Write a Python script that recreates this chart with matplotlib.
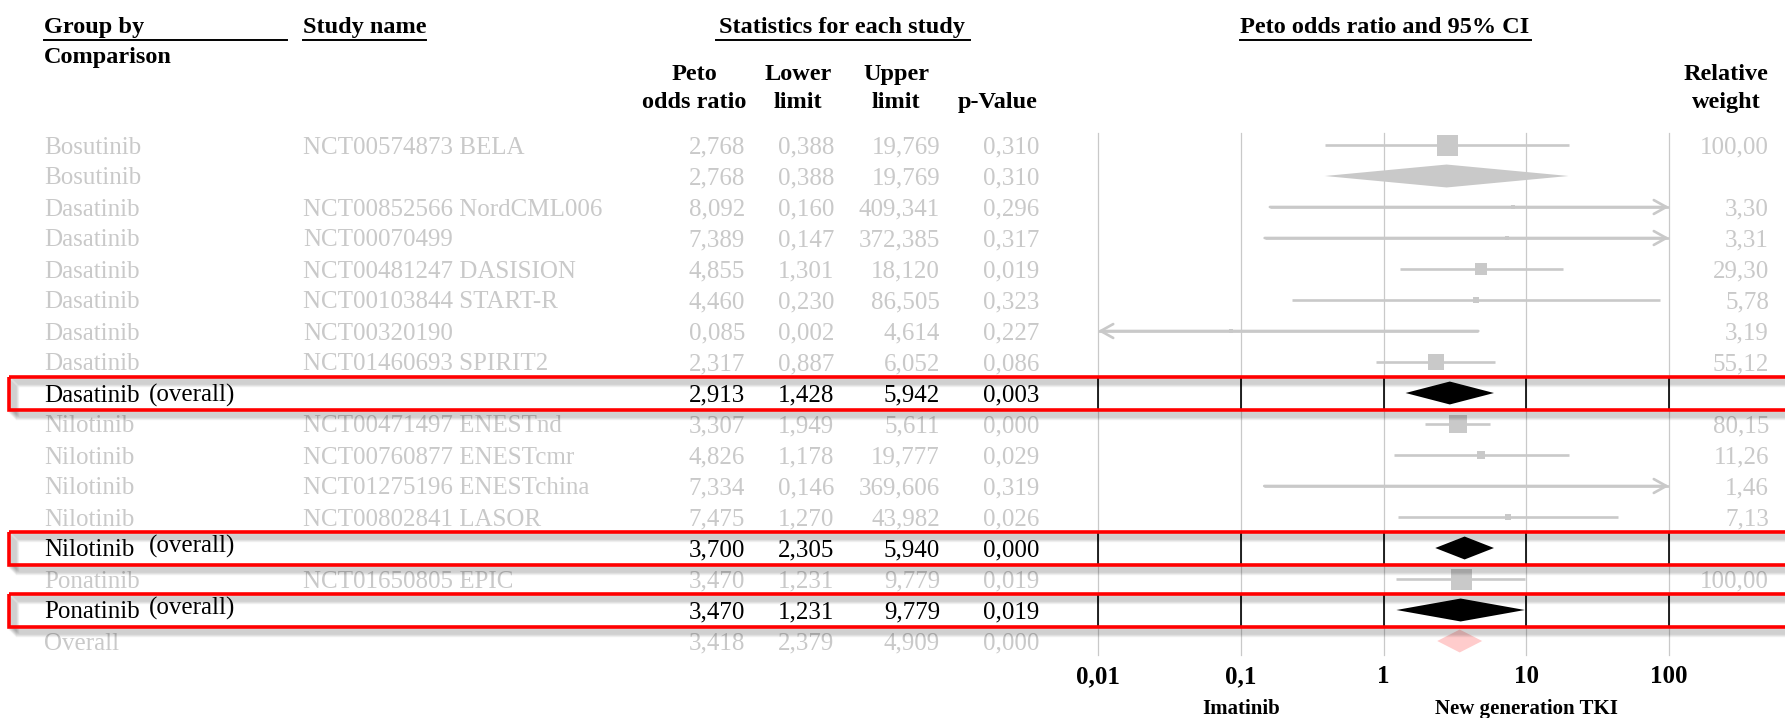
import numpy as np
import matplotlib
matplotlib.use("Agg")
import matplotlib.pyplot as plt
from matplotlib.patches import Rectangle
from matplotlib.transforms import blended_transform_factory

plt.rcParams['font.family'] = 'Liberation Serif'

# rows of the forest plot, top to bottom
groups = ["Bosutinib", "Bosutinib", "Dasatinib", "Dasatinib", "Dasatinib", "Dasatinib",
          "Dasatinib", "Dasatinib", "Dasatinib (overall)", "Nilotinib", "Nilotinib",
          "Nilotinib", "Nilotinib", "Nilotinib (overall)", "Ponatinib", "Ponatinib (overall)",
          "Overall"]
studies = ["NCT00574873 BELA", "", "NCT00852566 NordCML006", "NCT00070499",
           "NCT00481247 DASISION", "NCT00103844 START-R", "NCT00320190",
           "NCT01460693 SPIRIT2", "", "NCT00471497 ENESTnd", "NCT00760877 ENESTcmr",
           "NCT01275196 ENESTchina", "NCT00802841 LASOR", "", "NCT01650805 EPIC", "", ""]
odds = [2.768, 2.768, 8.092, 7.389, 4.855, 4.460, 0.085, 2.317, 2.913,
        3.307, 4.826, 7.334, 7.475, 3.700, 3.470, 3.470, 3.418]
lower = [0.388, 0.388, 0.160, 0.147, 1.301, 0.230, 0.002, 0.887, 1.428,
         1.949, 1.178, 0.146, 1.270, 2.305, 1.231, 1.231, 2.379]
upper = [19.769, 19.769, 409.341, 372.385, 18.120, 86.505, 4.614, 6.052, 5.942,
         5.611, 19.777, 369.606, 43.982, 5.940, 9.779, 9.779, 4.909]
pvals = [0.310, 0.310, 0.296, 0.317, 0.019, 0.323, 0.227, 0.086, 0.003,
         0.000, 0.029, 0.319, 0.026, 0.000, 0.019, 0.019, 0.000]
weights = [100.00, None, 3.30, 3.31, 29.30, 5.78, 3.19, 55.12, None,
           80.15, 11.26, 1.46, 7.13, None, 100.00, None, None]

ticks = [0.01, 0.1, 1, 10, 100]
tick_labels = ["0,01", "0,1", "1", "10", "100"]

gray = '#c9c9c9'
pink = '#ffcccc'
red = '#ff0000'


def fmt(v, n=3):
    return f"{v:.{n}f}".replace('.', ',')


W, H = 1785, 718
fig = plt.figure(figsize=(W / 100, H / 100), dpi=100)

# background axes in pixel units for the table part
bg = fig.add_axes([0, 0, 1, 1])
bg.set_xlim(0, W)
bg.set_ylim(H, 0)
bg.axis('off')

row0, dy = 145, 31
n = len(groups)

# forest axes, rows in data units
top_px, bot_px = row0 - dy * 0.5, row0 + dy * (n - 0.5)
x0, x1 = 1098, 1669
fax = fig.add_axes([x0 / W, 1 - bot_px / H, (x1 - x0) / W, (bot_px - top_px) / H])
fax.set_xscale('log')
fax.set_xlim(ticks[0], ticks[-1])
fax.set_ylim(n - 0.5, -0.5)
fax.axis('off')

hl = [g.endswith("(overall)") for g in groups]

# headers
hb = dict(fontsize=17.5, fontweight='bold')
bg.text(44, 33, "Group by", **hb)
bg.text(44, 63, "Comparison", **hb)
bg.text(303, 33, "Study name", **hb)
bg.text(842, 33, "Statistics for each study", ha='center', **hb)
bg.text(1385, 33, "Peto odds ratio and 95% CI", ha='center', **hb)
for xa, xb in [(44, 287), (303, 426), (716, 970), (1240, 1531)]:
    bg.plot([xa, xb], [40, 40], color='black', lw=1.4)
for xc, l1, l2 in [(694, "Peto", "odds ratio"), (798, "Lower", "limit"),
                   (896, "Upper", "limit"), (998, "", "p-Value"),
                   (1726, "Relative", "weight")]:
    bg.text(xc, 80, l1, ha='center', **hb)
    bg.text(xc, 108, l2, ha='center', **hb)

# table rows
for i in range(n):
    yb = row0 + dy * i + 8.5
    c = 'black' if hl[i] else gray
    kw = dict(fontsize=18, color=c)
    if hl[i]:
        name, tag = groups[i].split(' ', 1)
        lift = 0 if name == "Dasatinib" else 4
        bg.text(44, yb, name, **kw)
        bg.text(149, yb - lift, tag, **kw)
    else:
        bg.text(44, yb, groups[i], **kw)
    bg.text(303, yb, studies[i], **kw)
    bg.text(745, yb, fmt(odds[i]), ha='right', **kw)
    bg.text(834, yb, fmt(lower[i]), ha='right', **kw)
    bg.text(940, yb, fmt(upper[i]), ha='right', **kw)
    bg.text(1039, yb, fmt(pvals[i]), ha='right', **kw)
    if weights[i] is not None:
        bg.text(1769, yb, fmt(weights[i], 2), ha='right', **kw)

# vertical reference lines
for x in ticks:
    fax.plot([x, x], [-0.39, n - 0.55], color=gray, lw=0.9, clip_on=False)
    for i in range(n):
        if hl[i]:
            fax.plot([x, x], [i - 0.53, i + 0.53], color='black', lw=1.2, clip_on=False)

# estimates
for i in range(n):
    if hl[i]:
        c = 'black'
    elif groups[i] == "Overall":
        c = pink
    else:
        c = gray
    est, lo, hi = odds[i], lower[i], upper[i]
    if weights[i] is None:
        fax.fill([lo, est, hi, est], [i, i - 0.37, i, i + 0.37], color=c, lw=0, zorder=3)
        continue
    left, right = max(lo, ticks[0]), min(hi, ticks[-1])
    fax.plot([left, right], [i, i], color=c, lw=1.9, solid_capstyle='butt', zorder=2)
    head = dict(arrowstyle='->,head_length=0.9,head_width=0.5', color=c, lw=1.9,
                shrinkA=0, shrinkB=0)
    if hi > ticks[-1]:
        fax.annotate('', xy=(right, i), xytext=(left, i), arrowprops=head,
                     annotation_clip=False)
    if lo < ticks[0]:
        fax.annotate('', xy=(left, i), xytext=(right, i), arrowprops=head,
                     annotation_clip=False)
    side = 2.1 * np.sqrt(weights[i]) * 0.72
    fax.scatter([est], [i], marker='s', s=side ** 2, color=c, lw=0, zorder=3)

# axis labels
trans = blended_transform_factory(fax.transData, bg.transData)
for x, lab in zip(ticks, tick_labels):
    bg.text(x, 683, lab, transform=trans, ha='center', fontsize=18, fontweight='bold')
bg.text(0.1, 714, "Imatinib", transform=trans, ha='center', fontsize=15, fontweight='bold')
bg.text(10, 714, "New generation TKI", transform=trans, ha='center', fontsize=15,
        fontweight='bold')

# red highlight boxes with a soft shadow
ov = fig.add_axes([0, 0, 1, 1], zorder=5)
ov.set_xlim(0, W)
ov.set_ylim(H, 0)
ov.axis('off')
for i in range(n):
    if not hl[i]:
        continue
    yc = row0 + dy * i
    for k in range(1, 9):
        ov.add_patch(Rectangle((9 + k, yc - 16.5 + k), 1900, 33, fill=False,
                               edgecolor='black', alpha=0.055, lw=2.5))
    ov.add_patch(Rectangle((9, yc - 16.5), 1900, 33, fill=False, edgecolor=red, lw=2.6))

fig.savefig("out.png", dpi=100)
